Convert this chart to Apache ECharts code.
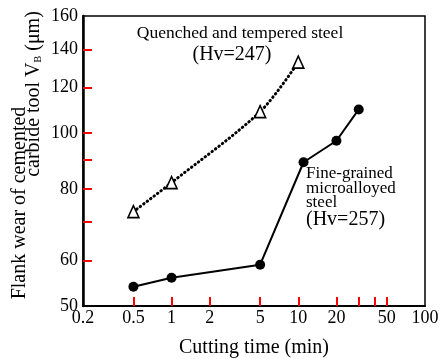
<!DOCTYPE html>
<html>
<head>
<meta charset="utf-8">
<script src="https://cdn.jsdelivr.net/npm/echarts@6/dist/echarts.min.js"></script>
<style>html,body{margin:0;padding:0;background:#fff}#c{width:440px;height:359px}</style>
</head>
<body>
<div id="c"></div>
<script>
// Data
const quenchedTime = [0.5, 1, 5, 10];
const quenchedWear = [73, 82, 109, 133];
const fineTime = [0.5, 1, 5, 11, 20, 30];
const fineWear = [54, 56, 59, 89, 97, 110];
const xLabelValues = [0.2, 0.5, 1, 2, 5, 10, 20, 50, 100];
const xTickValues = [0.5, 1, 2, 5, 10, 20, 30, 40, 50];
const yLabelValues = [50, 60, 80, 100, 120, 140, 160];
const yTickValues = [60, 70, 80, 90, 100, 120, 140];

const FONT = '"Liberation Serif", "DejaVu Serif", serif';
const chart = echarts.init(document.getElementById('c'));
const zip = (a, b) => a.map((v, i) => [v, b[i]]);

chart.setOption({
  animation: false,
  grid: { left: 83, right: 15, top: 16, bottom: 53, outerBoundsMode: 'none',
    show: true, borderColor: '#000', borderWidth: 1.5 },
  xAxis: [{
    type: 'log', logBase: 10, min: 0.2, max: 100,
    name: 'Cutting time (min)', nameLocation: 'middle', nameGap: 32,
    nameTextStyle: { fontFamily: FONT, fontSize: 20, color: '#000' },
    axisLine: { show: true, lineStyle: { color: '#000', width: 2 } },
    axisTick: { show: true, inside: true, length: 9, customValues: xTickValues, lineStyle: { color: '#f00', width: 2 } },
    axisLabel: { customValues: xLabelValues, fontFamily: FONT, fontSize: 18, color: '#000', margin: 3,
      formatter: v => String(v) },
    splitLine: { show: false }
  }],
  yAxis: [{
    type: 'log', logBase: 10, min: 50, max: 160,
    axisLine: { show: true, lineStyle: { color: '#000', width: 2.5 } },
    axisTick: { show: true, inside: true, length: 9, customValues: yTickValues, lineStyle: { color: '#f00', width: 2 } },
    axisLabel: { customValues: yLabelValues, fontFamily: FONT, fontSize: 18, color: '#000', margin: 5,
      formatter: v => String(v) },
    splitLine: { show: false }
  }],
  series: [{
    type: 'line', data: zip(quenchedTime, quenchedWear), smooth: 0.3,
    symbol: 'triangle', symbolSize: [11, 12],
    lineStyle: { color: '#000', width: 3, type: [0.5, 3.8], cap: 'round' },
    itemStyle: { color: '#fff', borderColor: '#000', borderWidth: 1.6 }
  }, {
    type: 'line', data: zip(fineTime, fineWear),
    symbol: 'circle', symbolSize: 10,
    lineStyle: { color: '#000', width: 2 },
    itemStyle: { color: '#000', borderColor: '#000', borderWidth: 0 }
  }],
  graphic: [
    { type: 'text', x: 240, y: 33, style: { text: 'Quenched and tempered steel', font: '17.5px ' + FONT, fill: '#000', align: 'center', verticalAlign: 'middle' } },
    { type: 'text', x: 232, y: 55, style: { text: '(Hv=247)', font: '20px ' + FONT, fill: '#000', align: 'center', verticalAlign: 'middle' } },
    { type: 'text', x: 306, y: 174, style: { text: 'Fine-grained', font: '17px ' + FONT, fill: '#000', align: 'left', verticalAlign: 'middle' } },
    { type: 'text', x: 306, y: 189, style: { text: 'microalloyed', font: '17px ' + FONT, fill: '#000', align: 'left', verticalAlign: 'middle' } },
    { type: 'text', x: 306, y: 203, style: { text: 'steel', font: '17px ' + FONT, fill: '#000', align: 'left', verticalAlign: 'middle' } },
    { type: 'text', x: 306, y: 220, style: { text: '(Hv=257)', font: '20px ' + FONT, fill: '#000', align: 'left', verticalAlign: 'middle' } },
    { type: 'text', x: 20, y: 203, rotation: Math.PI / 2, style: { text: 'Flank wear of cemented', font: '20px ' + FONT, fill: '#000', align: 'center', verticalAlign: 'middle' } },
    { type: 'text', x: 34, y: 94, rotation: Math.PI / 2, style: {
      text: '{a|carbide tool V}{s|B}{a| (μm)}', align: 'center', verticalAlign: 'middle',
      rich: { a: { fontFamily: FONT, fontSize: 20, color: '#000' }, s: { fontFamily: FONT, fontSize: 10, color: '#000', padding: [8, 0, 0, 0] } } } }
  ]
});
</script>
</body>
</html>
